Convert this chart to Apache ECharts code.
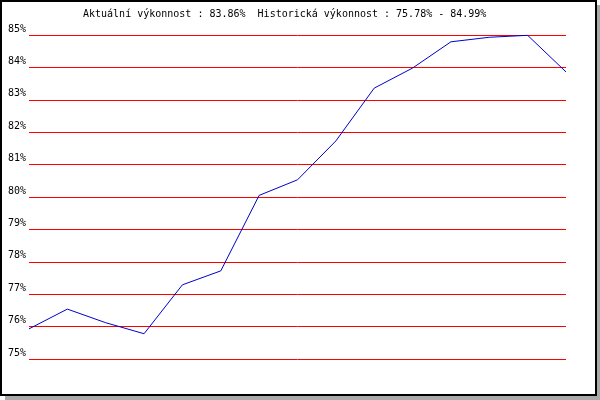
<!DOCTYPE html>
<html>
<head>
<meta charset="utf-8">
<script src="https://cdn.jsdelivr.net/npm/echarts@6/dist/echarts.min.js"></script>
<style>html,body{margin:0;padding:0;background:#fff;}#c{width:600px;height:400px;}</style>
</head>
<body>
<div id="c"></div>
<script>
const titleText = 'Aktuální výkonnost : 83.86%  Historická výkonnost : 75.78% - 84.99%';
const categories = ['1','2','3','4','5','6','7','8','9','10','11','12','13','14','15'];
const performance = [75.93, 76.54, 76.12, 75.78, 77.29, 77.72, 80.05, 80.53, 81.73, 83.36, 83.98, 84.79, 84.93, 84.99, 83.86];
const yMin = 75, yMax = 85, yStep = 1;

const chart = echarts.init(document.getElementById('c'), null, {renderer: 'canvas'});
chart.setOption({
  animation: false,
  backgroundColor: '#fff',
  graphic: [
    {type: 'rect', shape: {x: 5, y: 5, width: 595, height: 395}, style: {fill: '#aaaaaa'}, z: -10},
    {type: 'rect', shape: {x: 1, y: 1, width: 595, height: 394}, style: {fill: '#ffffff', stroke: '#000', lineWidth: 2}, z: -9}
  ],
  title: {
    text: titleText,
    left: 83, top: 9, padding: 0,
    textStyle: {fontFamily: 'DejaVu Sans Mono', fontSize: 10, fontWeight: 'normal', color: '#000'}
  },
  grid: {left: 29, right: 34, top: 35, bottom: 41, containLabel: false},
  xAxis: {
    type: 'category', data: categories, boundaryGap: false,
    show: false
  },
  yAxis: {
    type: 'value', min: yMin, max: yMax, interval: yStep,
    axisLine: {show: false}, axisTick: {show: false},
    splitLine: {show: true, lineStyle: {color: '#ff0000', width: 1}},
    axisLabel: {
      formatter: v => v + '%', verticalAlign: 'bottom', margin: 3,
      fontFamily: 'DejaVu Sans Mono', fontSize: 10, color: '#000', padding: [0,0,1,0]
    }
  },
  series: [{
    type: 'line', data: performance, showSymbol: false, symbol: 'none',
    lineStyle: {color: '#0000cc', width: 1}, z: 3
  }]
});
</script>
</body>
</html>
